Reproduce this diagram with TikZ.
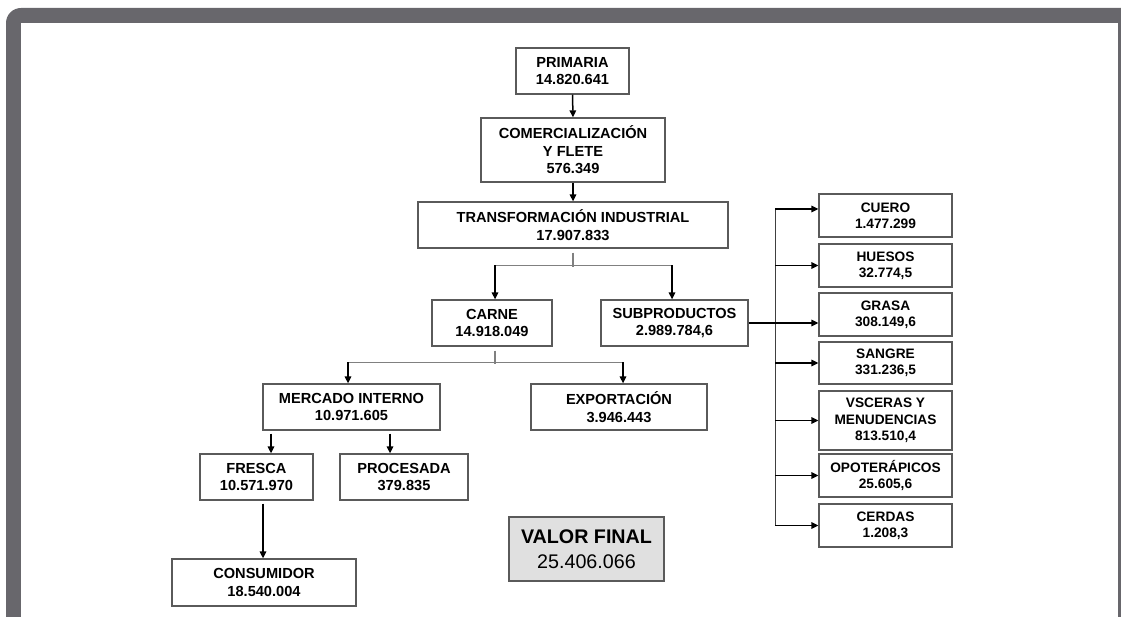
\documentclass[tikz,border=0pt]{standalone}
\usepackage{fontspec}
\setmainfont{Liberation Sans}
\usetikzlibrary{calc}
\usetikzlibrary{arrows.meta}

\definecolor{marco}{HTML}{68676C}
\definecolor{borde}{HTML}{5A5A5A}
\definecolor{relleno}{HTML}{E0E0E0}

\newcommand{\letragrande}{\fontsize{14.6}{17.5}\selectfont\bfseries}
\newcommand{\letrachica}{\fontsize{13.7}{16.3}\selectfont\bfseries}

\tikzset{
    caja/.style={draw=borde, line width=1.3pt, fill=white, align=center, inner sep=0pt, font=\letragrande},
    cajita/.style={caja, font=\letrachica, minimum width=133pt},
    flecha/.style={-{Triangle[length=7pt,width=6.5pt]}, line width=1.5pt},
    linea/.style={draw=black!75, line width=1.4pt},
    tallo/.style={draw=gray, line width=1.2pt}
}

\begin{document}
\begin{tikzpicture}[x=1pt,y=-1pt]
                \useasboundingbox (0,0) rectangle (1121,617);
                % marco
                \fill[marco] (6,617) [rounded corners=15pt] -- (6,8) [sharp corners] -- (1121,8) -- (1121,617) -- cycle;
                \fill[white] (21,23) rectangle (1118,617);

                \node[caja, minimum width=113pt, minimum height=46pt] (prim) at (572.5,71) {PRIMARIA\\14.820.641};
                \node[caja, minimum width=184pt, minimum height=64pt] (com) at (573,150) {COMERCIALIZACIÓN\\Y FLETE\\576.349};
                \node[caja, minimum width=310pt, minimum height=46pt] (trans) at (573,225) {TRANSFORMACIÓN INDUSTRIAL\\17.907.833};
                \node[caja, minimum width=120pt, minimum height=46pt] (carne) at (492,323) {CARNE\\14.918.049};
                \node[caja, minimum width=147pt, minimum height=46pt] (subp) at (674.5,323) {SUBPRODUCTOS\\2.989.784,6};
                \node[caja, minimum width=177pt, minimum height=46pt] (merc) at (351.5,407) {MERCADO INTERNO\\10.971.605};
                \node[caja, minimum width=176pt, minimum height=46pt] (expo) at (619,407) {EXPORTACIÓN\\3.946.443};
                \node[caja, minimum width=113pt, minimum height=46pt] (fresca) at (256.5,477) {FRESCA\\10.571.970};
                \node[caja, minimum width=128pt, minimum height=46pt] (proc) at (404,477) {PROCESADA\\379.835};
                \node[caja, minimum width=184pt, minimum height=47pt] (cons) at (264,582.5) {CONSUMIDOR\\18.540.004};
                \node[caja, fill=relleno, minimum width=155pt, minimum height=64pt, font=\fontsize{19.7}{25}\selectfont] (valor) at (586.5,549) {\textbf{VALOR FINAL}\\25.406.066};

                % subproductos
                \foreach \n/\y/\h/\t in {cuero/215.5/43/{CUERO\\1.477.299},
                                        huesos/265.5/43/{HUESOS\\32.774,5},
                                        grasa/314.5/43/{GRASA\\308.149,6},
                                        sangre/363/42/{SANGRE\\331.236,5},
                                        visceras/420.5/59/{VSCERAS Y\\MENUDENCIAS\\813.510,4},
                                        opoter/475.5/43/{OPOTERÁPICOS\\25.605,6},
                                        cerdas/525.5/43/{CERDAS\\1.208,3}}
                {
                    \node[cajita, minimum height=\h pt] (\n) at (885.5,\y) {\t};
                }

                \draw[flecha] (prim.south) -- (com.north);
                \draw[flecha] (com.south) -- (trans.north);

                \draw[tallo] ($(trans.south)+(0,4)$) -- ($(trans.south)+(0,18)$);
                \draw[tallo] ($(carne.north)+(3,-34)$) -- ($(subp.north)+(-2.5,-34)$);
                \draw[flecha] ($(carne.north)+(3,-34)$) -- ($(carne.north)+(3,0)$);
                \draw[flecha] ($(subp.north)+(-2.5,-34)$) -- ($(subp.north)+(-2.5,0)$);

                \draw[tallo] ($(carne.south)+(3,4)$) -- ($(carne.south)+(3,17)$);
                \draw[tallo] ($(merc.north)+(-3.5,-21)$) -- ($(expo.north)+(4,-21)$);
                \draw[flecha] ($(merc.north)+(-3.5,-21)$) -- ($(merc.north)+(-3.5,0)$);
                \draw[flecha] ($(expo.north)+(4,-21)$) -- ($(expo.north)+(4,0)$);

                \draw[flecha] ($(merc.south -| fresca.north)+(14.5,3)$) -- ($(fresca.north)+(14.5,0)$);
                \draw[flecha] ($(merc.south -| proc.north)+(-14,3)$) -- ($(proc.north)+(-14,0)$);
                \draw[flecha] ($(fresca.south -| cons.north)+(-1,3)$) -- ($(cons.north)+(-1,0)$);

                \draw[linea] ($(cuero.west)+(-43,-6.5)$) -- ($(cerdas.west)+(-43,0)$);
                \draw[flecha] ($(cuero.west)+(-43,-6.5)$) -- ([yshift=6.5pt]cuero.west);
                \draw[flecha] (subp.east) -- (subp.east -| grasa.west);
                \foreach \n in {huesos,sangre,visceras,opoter,cerdas}
                {
                    \draw[flecha] ($(\n.west)+(-43,0)$) -- (\n.west);
                }
            \end{tikzpicture}
\end{document}
